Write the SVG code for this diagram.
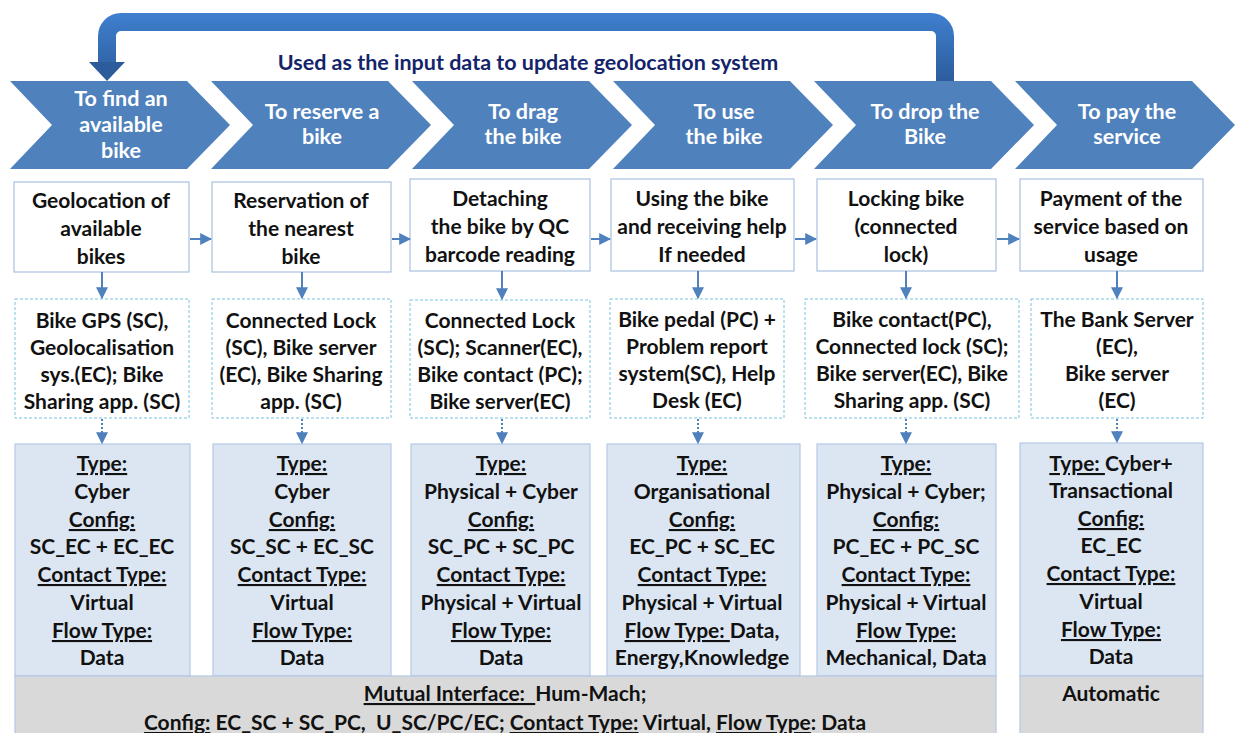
<svg xmlns="http://www.w3.org/2000/svg" width="1235" height="733" viewBox="0 0 1235 733">
<style>
text{font-family:Lato,"Open Sans","Liberation Sans",sans-serif;font-weight:bold;text-anchor:middle}
.chev{fill:#4f81bd}
.ct{fill:#ffffff;font-size:21.5px}
.box{fill:#ffffff;stroke:#a7c0df;stroke-width:1.2}
.dbox{fill:#ffffff;stroke:#77c3dc;stroke-width:1;stroke-dasharray:3 2}
.lbox{fill:#dce6f2;stroke:#b4c9e4;stroke-width:1.2}
.gbox{fill:#d9d9d9;stroke:#b4c9e4;stroke-width:1.2}
.t{fill:#111111;font-size:21px}
.u{text-decoration:underline}
.arr{stroke:#4f81bd;stroke-width:2;fill:none;marker-end:url(#ah)}
.dot{stroke:#4f81bd;stroke-width:2;fill:none;stroke-dasharray:2 2;marker-end:url(#ah)}
.title{fill:#14246a;font-size:21.5px}
</style>
<defs>
<marker id="ah" viewBox="0 0 10 10" refX="9" refY="5" markerWidth="6" markerHeight="6" orient="auto" markerUnits="strokeWidth">
<path d="M0,0 L10,5 L0,10 z" fill="#4f81bd"/>
</marker>
<linearGradient id="bg" gradientUnits="userSpaceOnUse" x1="0" y1="12" x2="0" y2="82">
<stop offset="0" stop-color="#3f80cf"/>
<stop offset="1" stop-color="#2c5c9c"/>
</linearGradient>
</defs>

<g id="feedback-arrow">
<path d="M945 81 V36 A14 14 0 0 0 931 22 H121 A14 14 0 0 0 107 36 V63" fill="none" stroke="url(#bg)" stroke-width="18"/>
<polygon points="89,62 125,62 107,81" fill="#2c5c9c"/>
<text class="title" x="528" y="70">Used as the input data to update geolocation system</text>
</g>

<g id="chevron1"><polygon class="chev" points="10,81 187,81 230,125 187,169 10,169 52,125"/>
<text class="ct" x="121" y="106">To find an</text><text class="ct" x="121" y="132">available</text><text class="ct" x="121" y="158">bike</text></g>
<g id="chevron2"><polygon class="chev" points="211,81 388,81 431,125 388,169 211,169 253,125"/>
<text class="ct" x="322" y="119">To reserve a</text><text class="ct" x="322" y="144">bike</text></g>
<g id="chevron3"><polygon class="chev" points="412,81 589,81 632,125 589,169 412,169 454,125"/>
<text class="ct" x="523" y="119">To drag</text><text class="ct" x="523" y="144">the bike</text></g>
<g id="chevron4"><polygon class="chev" points="613,81 790,81 833,125 790,169 613,169 655,125"/>
<text class="ct" x="724" y="119">To use</text><text class="ct" x="724" y="144">the bike</text></g>
<g id="chevron5"><polygon class="chev" points="814,81 991,81 1034,125 991,169 814,169 856,125"/>
<text class="ct" x="925" y="119">To drop the</text><text class="ct" x="925" y="144">Bike</text></g>
<g id="chevron6"><polygon class="chev" points="1015,81 1192,81 1235,125 1192,169 1015,169 1057,125"/>
<text class="ct" x="1127" y="119">To pay the</text><text class="ct" x="1127" y="144">service</text></g>

<g id="step1"><rect class="box" x="14" y="182" width="175" height="90"/>
<text class="t" x="101" y="208">Geolocation of</text><text class="t" x="101" y="236">available</text><text class="t" x="101" y="264">bikes</text></g>
<g id="step2"><rect class="box" x="212" y="182" width="179" height="90"/>
<text class="t" x="301" y="208">Reservation of</text><text class="t" x="301" y="236">the nearest</text><text class="t" x="301" y="264">bike</text></g>
<g id="step3"><rect class="box" x="410" y="179" width="180" height="92"/>
<text class="t" x="500" y="206">Detaching</text><text class="t" x="500" y="234">the bike by QC</text><text class="t" x="500" y="262">barcode reading</text></g>
<g id="step4"><rect class="box" x="611" y="179" width="183" height="92"/>
<text class="t" x="702" y="206">Using the bike</text><text class="t" x="702" y="234">and receiving help</text><text class="t" x="702" y="262">If needed</text></g>
<g id="step5"><rect class="box" x="817" y="179" width="179" height="92"/>
<text class="t" x="906" y="206">Locking bike</text><text class="t" x="906" y="234">(connected</text><text class="t" x="906" y="262">lock)</text></g>
<g id="step6"><rect class="box" x="1020" y="179" width="183" height="92"/>
<text class="t" x="1111" y="206">Payment of the</text><text class="t" x="1111" y="234">service based on</text><text class="t" x="1111" y="262">usage</text></g>

<g id="comp1"><rect class="dbox" x="15" y="299" width="174" height="119"/>
<text class="t" x="102" y="328">Bike GPS (SC),</text><text class="t" x="102" y="355">Geolocalisation</text><text class="t" x="102" y="382">sys.(EC); Bike</text><text class="t" x="102" y="409">Sharing app. (SC)</text></g>
<g id="comp2"><rect class="dbox" x="212" y="299" width="179" height="119"/>
<text class="t" x="301" y="328">Connected Lock</text><text class="t" x="301" y="355">(SC), Bike server</text><text class="t" x="301" y="382">(EC), Bike Sharing</text><text class="t" x="301" y="409">app. (SC)</text></g>
<g id="comp3"><rect class="dbox" x="410" y="300" width="180" height="118"/>
<text class="t" x="500" y="328">Connected Lock</text><text class="t" x="500" y="355">(SC); Scanner(EC),</text><text class="t" x="500" y="382">Bike contact (PC);</text><text class="t" x="500" y="409">Bike server(EC)</text></g>
<g id="comp4"><rect class="dbox" x="610" y="299" width="174" height="119"/>
<text class="t" x="697" y="327">Bike pedal (PC) +</text><text class="t" x="697" y="354">Problem report</text><text class="t" x="697" y="381">system(SC), Help</text><text class="t" x="697" y="408">Desk (EC)</text></g>
<g id="comp5"><rect class="dbox" x="805" y="299" width="214" height="119"/>
<text class="t" x="912" y="327">Bike contact(PC),</text><text class="t" x="912" y="354">Connected lock (SC);</text><text class="t" x="912" y="381">Bike server(EC), Bike</text><text class="t" x="912" y="408">Sharing app. (SC)</text></g>
<g id="comp6"><rect class="dbox" x="1031" y="299" width="172" height="119"/>
<text class="t" x="1117" y="327">The Bank Server</text><text class="t" x="1117" y="354">(EC),</text><text class="t" x="1117" y="381">Bike server</text><text class="t" x="1117" y="408">(EC)</text></g>

<g id="iface1"><rect class="lbox" x="15" y="444" width="175" height="232"/>
<text class="t" x="102" y="471"><tspan class="u">Type:</tspan></text><text class="t" x="102" y="499">Cyber</text>
<text class="t" x="102" y="527"><tspan class="u">Config:</tspan></text><text class="t" x="102" y="554">SC_EC + EC_EC</text>
<text class="t" x="102" y="582"><tspan class="u">Contact Type:</tspan></text><text class="t" x="102" y="610">Virtual</text>
<text class="t" x="102" y="638"><tspan class="u">Flow Type:</tspan></text><text class="t" x="102" y="665">Data</text></g>
<g id="iface2"><rect class="lbox" x="213" y="444" width="178" height="232"/>
<text class="t" x="302" y="471"><tspan class="u">Type:</tspan></text><text class="t" x="302" y="499">Cyber</text>
<text class="t" x="302" y="527"><tspan class="u">Config:</tspan></text><text class="t" x="302" y="554">SC_SC + EC_SC</text>
<text class="t" x="302" y="582"><tspan class="u">Contact Type:</tspan></text><text class="t" x="302" y="610">Virtual</text>
<text class="t" x="302" y="638"><tspan class="u">Flow Type:</tspan></text><text class="t" x="302" y="665">Data</text></g>
<g id="iface3"><rect class="lbox" x="411" y="444" width="179" height="232"/>
<text class="t" x="501" y="471"><tspan class="u">Type:</tspan></text><text class="t" x="501" y="499">Physical + Cyber</text>
<text class="t" x="501" y="527"><tspan class="u">Config:</tspan></text><text class="t" x="501" y="554">SC_PC + SC_PC</text>
<text class="t" x="501" y="582"><tspan class="u">Contact Type:</tspan></text><text class="t" x="501" y="610">Physical + Virtual</text>
<text class="t" x="501" y="638"><tspan class="u">Flow Type:</tspan></text><text class="t" x="501" y="665">Data</text></g>
<g id="iface4"><rect class="lbox" x="607" y="444" width="193" height="232"/>
<text class="t" x="702" y="471"><tspan class="u">Type:</tspan></text><text class="t" x="702" y="499">Organisational</text>
<text class="t" x="702" y="527"><tspan class="u">Config:</tspan></text><text class="t" x="702" y="554">EC_PC + SC_EC</text>
<text class="t" x="702" y="582"><tspan class="u">Contact Type:</tspan></text><text class="t" x="702" y="610">Physical + Virtual</text>
<text class="t" x="702" y="638" xml:space="preserve"><tspan class="u">Flow Type: </tspan>Data,</text><text class="t" x="702" y="665">Energy,Knowledge</text></g>
<g id="iface5"><rect class="lbox" x="817" y="444" width="179" height="232"/>
<text class="t" x="906" y="471"><tspan class="u">Type:</tspan></text><text class="t" x="906" y="499">Physical + Cyber;</text>
<text class="t" x="906" y="527"><tspan class="u">Config:</tspan></text><text class="t" x="906" y="554">PC_EC + PC_SC</text>
<text class="t" x="906" y="582"><tspan class="u">Contact Type:</tspan></text><text class="t" x="906" y="610">Physical + Virtual</text>
<text class="t" x="906" y="638"><tspan class="u">Flow Type:</tspan></text><text class="t" x="906" y="665">Mechanical, Data</text></g>
<g id="iface6"><rect class="lbox" x="1020" y="443" width="183" height="233"/>
<text class="t" x="1111" y="471" xml:space="preserve"><tspan class="u">Type: </tspan>Cyber+</text><text class="t" x="1111" y="498">Transactional</text>
<text class="t" x="1111" y="526"><tspan class="u">Config:</tspan></text><text class="t" x="1111" y="553">EC_EC</text>
<text class="t" x="1111" y="581"><tspan class="u">Contact Type:</tspan></text><text class="t" x="1111" y="609">Virtual</text>
<text class="t" x="1111" y="637"><tspan class="u">Flow Type:</tspan></text><text class="t" x="1111" y="664">Data</text></g>

<g id="mutual"><rect class="gbox" x="15" y="676" width="981" height="62"/>
<text class="t" x="505" y="701" xml:space="preserve"><tspan class="u">Mutual Interface:  </tspan>Hum-Mach;</text>
<text class="t" x="505" y="730" xml:space="preserve"><tspan class="u">Config:</tspan> EC_SC + SC_PC,  U_SC/PC/EC; <tspan class="u">Contact Type:</tspan> Virtual, <tspan class="u">Flow Type</tspan>: Data</text></g>
<g id="automatic"><rect class="gbox" x="1020" y="676" width="183" height="62"/>
<text class="t" x="1111" y="701">Automatic</text></g>

<g id="connectors">
<line class="arr" x1="190" y1="239" x2="211" y2="239"/>
<line class="arr" x1="392" y1="239" x2="410" y2="239"/>
<line class="arr" x1="591" y1="239" x2="610" y2="239"/>
<line class="arr" x1="795" y1="239" x2="816" y2="239"/>
<line class="arr" x1="997" y1="239" x2="1019" y2="239"/>
<line class="arr" x1="102" y1="272" x2="102" y2="298"/>
<line class="arr" x1="302" y1="272" x2="302" y2="298"/>
<line class="arr" x1="502" y1="271" x2="502" y2="299"/>
<line class="arr" x1="698" y1="271" x2="698" y2="298"/>
<line class="arr" x1="906" y1="271" x2="906" y2="298"/>
<line class="arr" x1="1117" y1="271" x2="1117" y2="298"/>
<line class="dot" x1="102" y1="419" x2="102" y2="443"/>
<line class="dot" x1="302" y1="419" x2="302" y2="443"/>
<line class="dot" x1="502" y1="419" x2="502" y2="443"/>
<line class="dot" x1="698" y1="419" x2="698" y2="443"/>
<line class="dot" x1="906" y1="419" x2="906" y2="443"/>
<line class="dot" x1="1117" y1="419" x2="1117" y2="442"/>
</g>
</svg>
